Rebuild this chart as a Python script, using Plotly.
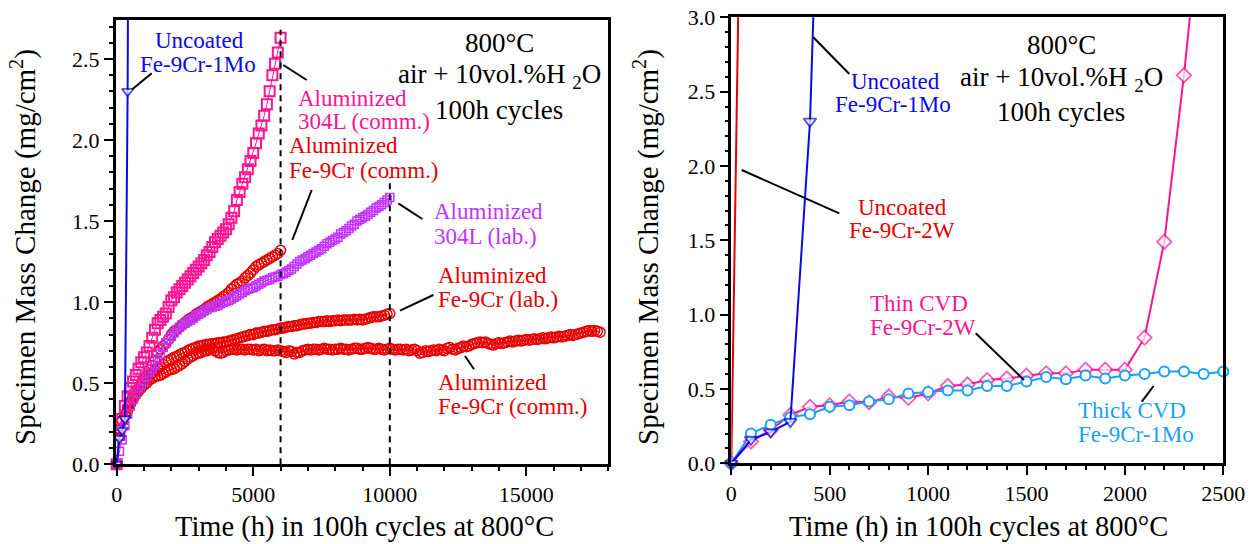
import plotly.graph_objects as go

W, H = 1251, 544
FONT = "Liberation Serif"

# ---------------- data: left panel ----------------
t_304L_comm = list(range(0, 6001, 100))
m_304L_comm = [0.00, 0.18, 0.28, 0.36, 0.42, 0.47, 0.51, 0.55, 0.59, 0.63,
               0.66, 0.69, 0.73, 0.78, 0.83, 0.87, 0.89, 0.91, 0.93, 0.97,
               1.01, 1.03, 1.06, 1.08, 1.10, 1.12, 1.14, 1.16, 1.18, 1.20,
               1.22, 1.24, 1.26, 1.29, 1.31, 1.34, 1.37, 1.39, 1.41, 1.43,
               1.45, 1.48, 1.52, 1.56, 1.63, 1.68, 1.73, 1.77, 1.82, 1.87,
               1.92, 1.98, 2.04, 2.09, 2.15, 2.22, 2.30, 2.40, 2.47, 2.54,
               2.63]

t_fe9cr_comm_a = list(range(0, 6001, 100))
m_fe9cr_comm_a = [0.00, 0.22, 0.27, 0.30, 0.33, 0.37, 0.40, 0.44, 0.47, 0.50,
                  0.53, 0.55, 0.58, 0.61, 0.64, 0.69, 0.71, 0.73, 0.745, 0.77,
                  0.80, 0.82, 0.83, 0.845, 0.86, 0.875, 0.89, 0.90, 0.91, 0.925,
                  0.935, 0.945, 0.955, 0.97, 0.98, 0.99, 1.00, 1.01, 1.02, 1.035,
                  1.045, 1.06, 1.08, 1.095, 1.11, 1.12, 1.13, 1.15, 1.165, 1.18,
                  1.20, 1.22, 1.23, 1.24, 1.25, 1.26, 1.27, 1.28, 1.29, 1.30,
                  1.32]

t_304L_lab = list(range(0, 10001, 100))
m_304L_lab = [0.00, 0.08, 0.15, 0.24, 0.31, 0.36, 0.40, 0.44, 0.47, 0.49,
              0.51, 0.54, 0.57, 0.59, 0.61, 0.65, 0.68, 0.72, 0.75, 0.77,
              0.79, 0.81, 0.83, 0.845, 0.86, 0.87, 0.88, 0.89, 0.90, 0.915,
              0.925, 0.935, 0.945, 0.955, 0.965, 0.97, 0.975, 0.98, 0.99, 1.00,
              1.005, 1.01, 1.02, 1.03, 1.04, 1.05, 1.06, 1.07, 1.08, 1.085,
              1.09, 1.10, 1.11, 1.12, 1.13, 1.135, 1.14, 1.15, 1.155, 1.16,
              1.17, 1.175, 1.185, 1.195, 1.205, 1.22, 1.235, 1.25, 1.26, 1.27,
              1.28, 1.29, 1.30, 1.31, 1.32, 1.33, 1.345, 1.36, 1.37, 1.38,
              1.39, 1.40, 1.42, 1.43, 1.44, 1.455, 1.47, 1.48, 1.50, 1.51,
              1.52, 1.53, 1.54, 1.555, 1.565, 1.58, 1.59, 1.60, 1.615, 1.63,
              1.645]

t_fe9cr_lab = list(range(0, 10001, 100))
m_fe9cr_lab = [0.00, 0.21, 0.27, 0.31, 0.35, 0.39, 0.42, 0.45, 0.47, 0.49,
               0.51, 0.53, 0.55, 0.565, 0.58, 0.59, 0.60, 0.615, 0.63, 0.64,
               0.65, 0.66, 0.665, 0.675, 0.685, 0.69, 0.70, 0.71, 0.715, 0.72,
               0.73, 0.73, 0.735, 0.74, 0.74, 0.745, 0.745, 0.75, 0.75, 0.755,
               0.755, 0.76, 0.765, 0.77, 0.775, 0.78, 0.785, 0.79, 0.795, 0.80,
               0.80, 0.81, 0.81, 0.815, 0.82, 0.82, 0.825, 0.83, 0.83, 0.835,
               0.84, 0.84, 0.845, 0.85, 0.85, 0.855, 0.855, 0.86, 0.865, 0.865,
               0.87, 0.87, 0.875, 0.875, 0.88, 0.88, 0.88, 0.885, 0.88, 0.885,
               0.885, 0.89, 0.885, 0.89, 0.89, 0.89, 0.89, 0.895, 0.89, 0.895,
               0.89, 0.895, 0.90, 0.905, 0.91, 0.91, 0.91, 0.915, 0.92, 0.925,
               0.93]

t_fe9cr_comm_b = list(range(0, 17701, 100))
m_fe9cr_comm_b = [0.00, 0.22, 0.27, 0.31, 0.35, 0.38, 0.41, 0.43, 0.45, 0.47,
                  0.49, 0.50, 0.52, 0.53, 0.54, 0.545, 0.55, 0.56, 0.57, 0.58,
                  0.585, 0.59, 0.60, 0.61, 0.62, 0.635, 0.65, 0.66, 0.67, 0.68,
                  0.685, 0.69, 0.70, 0.70, 0.705, 0.71, 0.70, 0.69, 0.685, 0.69,
                  0.70, 0.705, 0.71, 0.71, 0.705, 0.71, 0.71, 0.705, 0.71, 0.71,
                  0.705, 0.71, 0.70, 0.705, 0.71, 0.70, 0.705, 0.70, 0.70, 0.705,
                  0.70, 0.695, 0.69, 0.70, 0.695, 0.68, 0.69, 0.69, 0.70, 0.705,
                  0.71, 0.705, 0.71, 0.71, 0.705, 0.71, 0.715, 0.71, 0.71, 0.705,
                  0.71, 0.71, 0.715, 0.71, 0.71, 0.705, 0.71, 0.715, 0.715, 0.71,
                  0.71, 0.715, 0.72, 0.715, 0.71, 0.71, 0.715, 0.71, 0.705, 0.71,
                  0.715, 0.71, 0.705, 0.71, 0.71, 0.705, 0.71, 0.70, 0.705, 0.71,
                  0.70, 0.685, 0.69, 0.70, 0.695, 0.70, 0.705, 0.70, 0.71, 0.705,
                  0.70, 0.715, 0.72, 0.71, 0.705, 0.715, 0.72, 0.73, 0.725, 0.73,
                  0.74, 0.745, 0.75, 0.755, 0.75, 0.755, 0.745, 0.74, 0.735, 0.745,
                  0.75, 0.745, 0.75, 0.755, 0.76, 0.755, 0.76, 0.765, 0.76, 0.765,
                  0.77, 0.765, 0.77, 0.775, 0.77, 0.775, 0.78, 0.775, 0.78, 0.785,
                  0.78, 0.785, 0.79, 0.785, 0.79, 0.795, 0.80, 0.795, 0.80, 0.805,
                  0.81, 0.815, 0.82, 0.825, 0.82, 0.825, 0.82, 0.815]

t_uncoated_1mo = [0, 100, 200, 300, 400, 500]
m_uncoated_1mo = [0.00, 0.16, 0.21, 0.28, 2.30, 6.50]

t_uncoated_2w = [0, 100]
m_uncoated_2w = [0.00, 8.60]

# ---------------- data: right panel ----------------
t_thin_cvd = list(range(0, 2401, 100))
m_thin_cvd = [0.00, 0.146, 0.224, 0.325, 0.38, 0.39, 0.415, 0.41, 0.45, 0.44,
              0.47, 0.52, 0.53, 0.56, 0.57, 0.59, 0.605, 0.605, 0.63, 0.63,
              0.63, 0.845, 1.49, 2.61, 3.90]

t_thick_cvd = list(range(0, 2501, 100))
m_thick_cvd = [0.00, 0.20, 0.26, 0.31, 0.33, 0.38, 0.39, 0.415, 0.43, 0.47,
               0.48, 0.49, 0.49, 0.52, 0.52, 0.55, 0.58, 0.565, 0.59, 0.57,
               0.59, 0.60, 0.617, 0.617, 0.60, 0.617]

# test-end markers (dashed verticals)
end_times = [6000, 10000]
end_tops = [2.68, 1.77]

# ---------------- styles ----------------
BLUE = "#0a0ae6"
RED = "#e60000"
PINK = "#ff1493"
PURPLE = "#c333ff"
LBLUE = "#1a9fff"

fig = go.Figure()

# left panel traces (x, y)
for t, m in [(t_fe9cr_comm_b, m_fe9cr_comm_b), (t_fe9cr_lab, m_fe9cr_lab), (t_fe9cr_comm_a, m_fe9cr_comm_a)]:
    fig.add_trace(go.Scatter(x=t, y=m, mode="lines+markers",
                             line=dict(color=RED, width=1),
                             marker=dict(symbol="circle-open", size=10, color=RED, line=dict(width=1.5)),
                             cliponaxis=False, xaxis="x", yaxis="y"))
fig.add_trace(go.Scatter(x=t_304L_lab, y=m_304L_lab, mode="lines+markers",
                         line=dict(color=PURPLE, width=1),
                         marker=dict(symbol="square-open", size=8, color=PURPLE, line=dict(width=1.5)),
                         cliponaxis=False, xaxis="x", yaxis="y"))
fig.add_trace(go.Scatter(x=t_304L_comm, y=m_304L_comm, mode="lines+markers",
                         line=dict(color=PINK, width=1),
                         marker=dict(symbol="square-open", size=10, color=PINK, line=dict(width=2)),
                         cliponaxis=False, xaxis="x", yaxis="y"))
fig.add_trace(go.Scatter(x=t_uncoated_1mo, y=m_uncoated_1mo, mode="lines+markers",
                         line=dict(color=BLUE, width=2),
                         marker=dict(symbol="triangle-down", size=[10] * (len(t_uncoated_1mo) - 1) + [0],
                                     color="white", line=dict(color=BLUE, width=1.8)),
                         cliponaxis=False, xaxis="x", yaxis="y"))
for xe, ye in zip(end_times, end_tops):
    fig.add_trace(go.Scatter(x=[xe, xe], y=[0, ye], mode="lines",
                             line=dict(color="black", width=2, dash="6px,5px"),
                             xaxis="x", yaxis="y"))

# right panel traces (x2, y2)
fig.add_trace(go.Scatter(x=t_uncoated_2w, y=m_uncoated_2w, mode="lines",
                         line=dict(color=RED, width=2), xaxis="x2", yaxis="y2"))
fig.add_trace(go.Scatter(x=t_thin_cvd, y=m_thin_cvd, mode="lines+markers",
                         line=dict(color=PINK, width=2),
                         marker=dict(symbol="diamond", size=[11] * (len(t_thin_cvd) - 1) + [0],
                                     color="white", line=dict(color=PINK, width=1.8)),
                         cliponaxis=False, xaxis="x2", yaxis="y2"))
fig.add_trace(go.Scatter(x=t_thick_cvd, y=m_thick_cvd, mode="lines+markers",
                         line=dict(color=LBLUE, width=2),
                         marker=dict(symbol="circle", size=10, color="white",
                                     line=dict(color=LBLUE, width=2)),
                         cliponaxis=False, xaxis="x2", yaxis="y2"))
fig.add_trace(go.Scatter(x=t_uncoated_1mo, y=m_uncoated_1mo, mode="lines+markers",
                         line=dict(color=BLUE, width=2),
                         marker=dict(symbol="triangle-down", size=[11] * (len(t_uncoated_1mo) - 1) + [0],
                                     color="white", line=dict(color=BLUE, width=1.8)),
                         cliponaxis=False, xaxis="x2", yaxis="y2"))


def PX(x):
    return x / W


def PY(y):
    return 1 - y / H


tickfont = dict(family=FONT, size=22, color="black")
axis_common = dict(showline=True, linecolor="black", linewidth=2.5, mirror=True,
                   ticks="outside", ticklen=9, tickwidth=2, tickcolor="black",
                   showgrid=False, zeroline=False, tickfont=tickfont, automargin=False)

fig.update_layout(
    width=W, height=H, autosize=False,
    margin=dict(l=0, r=0, t=0, b=0, pad=0, autoexpand=False),
    paper_bgcolor="white", plot_bgcolor="white", showlegend=False,
    font=dict(family=FONT, color="black"),
    xaxis=dict(domain=[PX(115.7), PX(608.3)], range=[-37, 18000], dtick=5000, tickformat="d",
               minor=dict(dtick=1000, ticks="outside", ticklen=4, tickwidth=2, tickcolor="black"),
               anchor="y", **axis_common),
    yaxis=dict(domain=[PY(464.3), PY(19.7)], range=[0, 2.742], dtick=0.5, tickformat=".1f",
               minor=dict(dtick=0.1, ticks="outside", ticklen=4, tickwidth=2, tickcolor="black"),
               anchor="x", **axis_common),
    xaxis2=dict(domain=[PX(731.3), PX(1223.3)], range=[0, 2500], dtick=500, tickformat="d",
                minor=dict(dtick=100, ticks="outside", ticklen=4, tickwidth=2, tickcolor="black"),
                anchor="y2", **axis_common),
    yaxis2=dict(domain=[PY(463.3), PY(17.3)], range=[0, 3.0], dtick=0.5, tickformat=".1f",
                minor=dict(dtick=0.1, ticks="outside", ticklen=4, tickwidth=2, tickcolor="black"),
                anchor="x2", **axis_common),
)

annotations = []


def ann(text, x, y, color="black", size=23, xanchor="center", angle=0):
    annotations.append(dict(text=text, x=PX(x), y=PY(y), xref="paper", yref="paper",
                            showarrow=False, xanchor=xanchor, yanchor="middle",
                            textangle=angle,
                            font=dict(family=FONT, size=size, color=color)))


# axis titles
ann("Time (h) in 100h cycles at 800°C", 364, 527, size=28.5)
ann("Time (h) in 100h cycles at 800°C", 978, 527, size=28.5)
ann("Specimen Mass Change (mg/cm<sup>2</sup>)", 23, 247, size=29, angle=-90)
ann("Specimen Mass Change (mg/cm<sup>2</sup>)", 646, 247, size=29, angle=-90)

# condition blocks
for cx, ys in [(499, (43, 72, 110)), (1061, (45, 75, 112))]:
    ann("800°C", cx, ys[0], size=27)
    ann("air + 10vol.%H <sub>2</sub>O", cx, ys[1] + 4, size=27)
    ann("100h cycles", cx, ys[2], size=27)

# left panel labels
ann("Uncoated", 199, 41, BLUE)
ann("Fe-9Cr-1Mo", 198, 64, BLUE)
ann("Aluminized", 296, 98, PINK, xanchor="left")
ann("304L (comm.)", 296, 122, PINK, xanchor="left")
ann("Aluminized", 287, 146, RED, xanchor="left")
ann("Fe-9Cr (comm.)", 287, 170, RED, xanchor="left")
ann("Aluminized", 432, 212, PURPLE, xanchor="left")
ann("304L (lab.)", 432, 236, PURPLE, xanchor="left")
ann("Aluminized", 436, 275, RED, xanchor="left")
ann("Fe-9Cr (lab.)", 436, 299, RED, xanchor="left")
ann("Aluminized", 436, 382, RED, xanchor="left")
ann("Fe-9Cr (comm.)", 436, 406, RED, xanchor="left")

# right panel labels
ann("Uncoated", 895, 81, BLUE)
ann("Fe-9Cr-1Mo", 893, 104, BLUE)
ann("Uncoated", 903, 207, RED)
ann("Fe-9Cr-2W", 902, 230, RED)
ann("Thin CVD", 868, 303, PINK, xanchor="left")
ann("Fe-9Cr-2W", 868, 327, PINK, xanchor="left")
ann("Thick CVD", 1076, 410, LBLUE, xanchor="left")
ann("Fe-9Cr-1Mo", 1076, 434, LBLUE, xanchor="left")

fig.update_layout(annotations=annotations)

# leader lines (pixel positions)
leaders = [((151.7, 73.3), (132.3, 89.3)),
           ((283.3, 65), (306.7, 80)),
           ((311.7, 190), (292.3, 240)),
           ((398.3, 203.3), (422.3, 219)),
           ((400, 310.7), (433.3, 295)),
           ((465, 356), (474, 369.3)),
           ((813.3, 37.3), (849.3, 74)),
           ((741.7, 170), (839.3, 213.3)),
           ((975.7, 333.3), (1024, 380)),
           ((1141.8, 401.7), (1153.6, 386))]
shapes = []
for (x0, y0), (x1, y1) in leaders:
    shapes.append(dict(type="line", xref="paper", yref="paper",
                       x0=PX(x0), y0=PY(y0), x1=PX(x1), y1=PY(y1),
                       line=dict(color="black", width=2)))
fig.update_layout(shapes=shapes)

fig.write_html("out.html")
